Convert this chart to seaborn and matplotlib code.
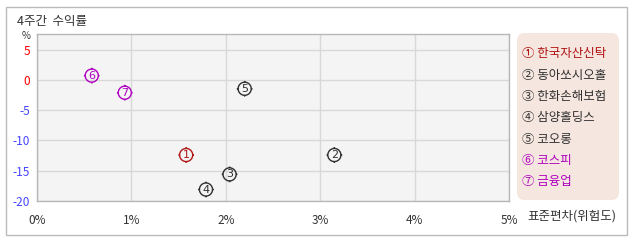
import matplotlib
matplotlib.use("Agg")
import matplotlib.pyplot as plt
import seaborn as sns
import pandas as pd
import numpy as np
from matplotlib.path import Path
from matplotlib.patches import FancyBboxPatch, Rectangle

names = ["한국자산신탁", "동아쏘시오홀", "한화손해보험", "삼양홀딩스", "코오롱", "코스피", "금융업"]
marks = ["①", "②", "③", "④", "⑤", "⑥", "⑦"]
nums = ["1", "2", "3", "4", "5", "6", "7"]
std_dev = [1.58, 3.15, 2.04, 1.79, 2.20, 0.58, 0.93]
returns = [-12.4, -12.4, -15.6, -18.1, -1.45, 0.72, -2.1]
groups = ["stock", "other", "other", "other", "other", "market", "market"]
x_ticks = [0, 1, 2, 3, 4, 5]
x_tick_labels = ["0%", "1%", "2%", "3%", "4%", "5%"]
y_ticks = [5, 0, -5, -10, -15, -20]

group_colors = {"stock": "#B01818", "other": "#303030", "market": "#B000C0"}
colors = [group_colors[g] for g in groups]

plt.rcParams['font.family'] = ['Noto Sans CJK KR', 'DejaVu Sans']

df = pd.DataFrame({"x": std_dev, "y": returns, "name": names, "key": nums})

fig = plt.figure(figsize=(6.38, 2.42), dpi=100)
fig.patch.set_facecolor("white")

# outer frame
fig.patches.append(Rectangle((6/638, 1-235/242), (627-6)/638, (235-7)/242,
                             transform=fig.transFigure, fill=False,
                             edgecolor="#BBBBBB", linewidth=1.0))

ax = fig.add_axes([37/638, 41/242, 472/638, 167/242])
ax.set_facecolor("#F4F4F4")

# custom marker: circle with four small ticks
theta = np.linspace(0, 2*np.pi, 41)
verts = [(np.cos(t), np.sin(t)) for t in theta]
codes = [Path.MOVETO] + [Path.LINETO]*(len(theta)-1)
for (a, b) in [((0, 1), (0, 1.2)), ((0, -1), (0, -1.2)), ((1, 0), (1.2, 0)), ((-1, 0), (-1.2, 0))]:
    verts += [a, b]
    codes += [Path.MOVETO, Path.LINETO]
marker_path = Path(verts, codes)

sns.scatterplot(data=df, x="x", y="y", hue="key",
                palette=dict(zip(df["key"], colors)),
                marker=marker_path, s=128,
                linewidth=1.0, legend=False, ax=ax, zorder=3)
coll = ax.collections[0]
fc = coll.get_facecolors()
coll.set_edgecolors(fc)
coll.set_facecolors("none")

for xi, yi, n, c in zip(std_dev, returns, nums, colors):
    ax.text(xi, yi, n, color=c, fontsize=8, ha="center", va="center",
            family=["DejaVu Sans"], zorder=4)

ax.set_xlim(0, 5)
ax.set_ylim(-20, 7.6)
ax.set_xticks(x_ticks)
ax.set_xticklabels(x_tick_labels)
ax.set_yticks(y_ticks)
ax.set_yticklabels([str(v) for v in y_ticks])
ax.grid(True, color="#D8D8D8", linewidth=1.0)
ax.set_axisbelow(True)
ax.tick_params(length=0, labelsize=8.5)
ax.tick_params(axis="x", pad=9, labelcolor="#333333")
ax.tick_params(axis="y", pad=5)
for lbl, v in zip(ax.get_yticklabels(), y_ticks):
    lbl.set_color("#FF0000" if v >= 0 else "#4444FF")
for s in ax.spines.values():
    s.set_color("#B8B8B8")
    s.set_linewidth(1.0)
ax.set_xlabel("")
ax.set_ylabel("")

fig.text(17/638, 1-21/242, "4주간  수익률", fontsize=9, va="center", ha="left", color="#333333")
fig.text(26/638, 1-36/242, "%", fontsize=7, va="center", ha="center", color="#333333")
fig.text(527/638, 1-216/242, "표준편차(위험도)", fontsize=9, va="center", ha="left", color="#333333")

# legend box
fig.patches.append(FancyBboxPatch((517/638, 1-200/242), (619-517)/638, (200-33)/242,
                                  boxstyle="round,pad=0,rounding_size=0.012",
                                  transform=fig.transFigure, facecolor="#F5E6DF",
                                  edgecolor="none", mutation_aspect=638/242))
leg_colors = ["#B01010", "#303030", "#303030", "#303030", "#303030", "#B000C0", "#B000C0"]
for i, (m, n, c) in enumerate(zip(marks, names, leg_colors)):
    y = 54 + i * 21.3
    fig.text(522/638, 1-y/242, f"{m} {n}", fontsize=9, va="center", ha="left", color=c)

fig.savefig("out.png", dpi=100, facecolor="white")
